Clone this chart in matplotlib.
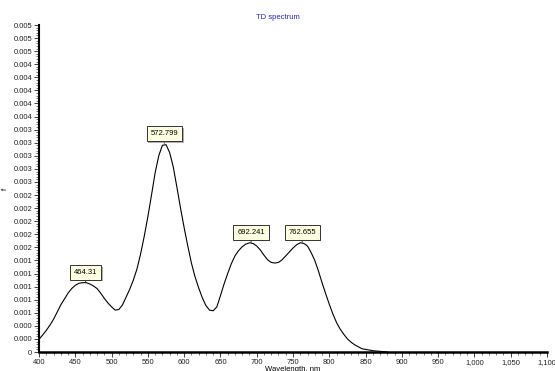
import numpy as np
import matplotlib.pyplot as plt
from matplotlib.ticker import MultipleLocator, FuncFormatter
import matplotlib.patheffects as pe

# TD spectrum, oscillator strength vs wavelength (5 nm steps)
wavelength = list(range(400, 885, 5))
f_values = [0.000194, 0.00026, 0.00033, 0.00041, 0.00050, 0.00061, 0.00072,
            0.00081, 0.00090, 0.00097, 0.00102, 0.00105, 0.00106, 0.00106,
            0.00104, 0.00101, 0.00097, 0.00090, 0.00082, 0.00075, 0.00069,
            0.00064, 0.00065, 0.00072, 0.00084, 0.00096, 0.00110, 0.00127,
            0.00150, 0.00177, 0.00207, 0.00240, 0.00274, 0.00300, 0.00316,
            0.00317, 0.00305, 0.00283, 0.00252, 0.00220, 0.00190, 0.00162,
            0.00136, 0.00115, 0.00098, 0.00083, 0.00071, 0.00064, 0.00063,
            0.00069, 0.00086, 0.00104, 0.00120, 0.00135, 0.00147, 0.00155,
            0.00161, 0.00165, 0.00167, 0.00166, 0.00162, 0.00156, 0.00148,
            0.00141, 0.00137, 0.00136, 0.00137, 0.00141, 0.00147, 0.00153,
            0.00159, 0.00164, 0.00167, 0.00166, 0.00162, 0.00152, 0.00140,
            0.00124, 0.00106, 0.00089, 0.00073, 0.00058, 0.00045, 0.00035,
            0.00027, 0.00020, 0.00015, 0.00011, 0.00008, 0.00005, 0.00004,
            0.00003, 0.00002, 0.000015, 0.00001, 0.000005, 0.0]

peak_wl = [464.31, 572.799, 692.241, 762.655]
peak_f = [0.00106, 0.00318, 0.00167, 0.00167]
peak_labels = ['464.31', '572.799', '692.241', '762.655']

plt.rcParams['font.family'] = ['Liberation Sans', 'DejaVu Sans']

fig = plt.figure(figsize=(5.55, 3.71), dpi=100)
ax = fig.add_axes([0.0703, 0.0512, 0.9153, 0.8814])

ax.plot(wavelength, f_values, color='black', lw=0.8)

for x, y, lab in zip(peak_wl, peak_f, peak_labels):
    ax.annotate(lab, xy=(x, y), xytext=(0, 5), textcoords='offset points',
                ha='center', va='bottom', fontsize=5.5,
                bbox=dict(boxstyle='square,pad=0.5', fc='#ffffe1', ec='#333333', lw=0.7,
                          path_effects=[pe.SimplePatchShadow(offset=(1.2, -1.2), shadow_rgbFace='#999999', alpha=0.8),
                                        pe.Normal()]),
                arrowprops=dict(arrowstyle='-', color='#333333', lw=0.7, shrinkA=0, shrinkB=0.5))

ax.set_xlim(400, 1100)
ax.set_ylim(0, 0.005)
ax.xaxis.set_major_locator(MultipleLocator(50))
ax.xaxis.set_minor_locator(MultipleLocator(10))
ax.yaxis.set_major_locator(MultipleLocator(0.0002))
ax.yaxis.set_minor_locator(MultipleLocator(0.00004))
ax.xaxis.set_major_formatter(FuncFormatter(lambda v, p: f'{v:,.0f}'))
ax.yaxis.set_major_formatter(FuncFormatter(lambda v, p: '0' if abs(v) < 1e-9 else f'{v:.3f}'))

for s in ['top', 'right']:
    ax.spines[s].set_visible(False)
ax.spines['left'].set_linewidth(1.5)
ax.spines['bottom'].set_linewidth(1.8)
ax.tick_params(which='major', length=3.5, width=0.6, labelsize=5.5, pad=1.5, colors='#222222')
ax.tick_params(which='minor', length=2, width=0.5, colors='#444444')

ax.set_xlabel('Wavelength, nm', fontsize=5.5)
ax.xaxis.set_label_coords(0.5, -0.044)
ax.set_ylabel('f', fontsize=5.5)
ax.yaxis.set_label_coords(-0.06, 0.5)
fig.text(0.5, 0.952, 'TD spectrum', ha='center', va='center', fontsize=5.5, color='#2222cc')

fig.savefig('out.png', dpi=100)
